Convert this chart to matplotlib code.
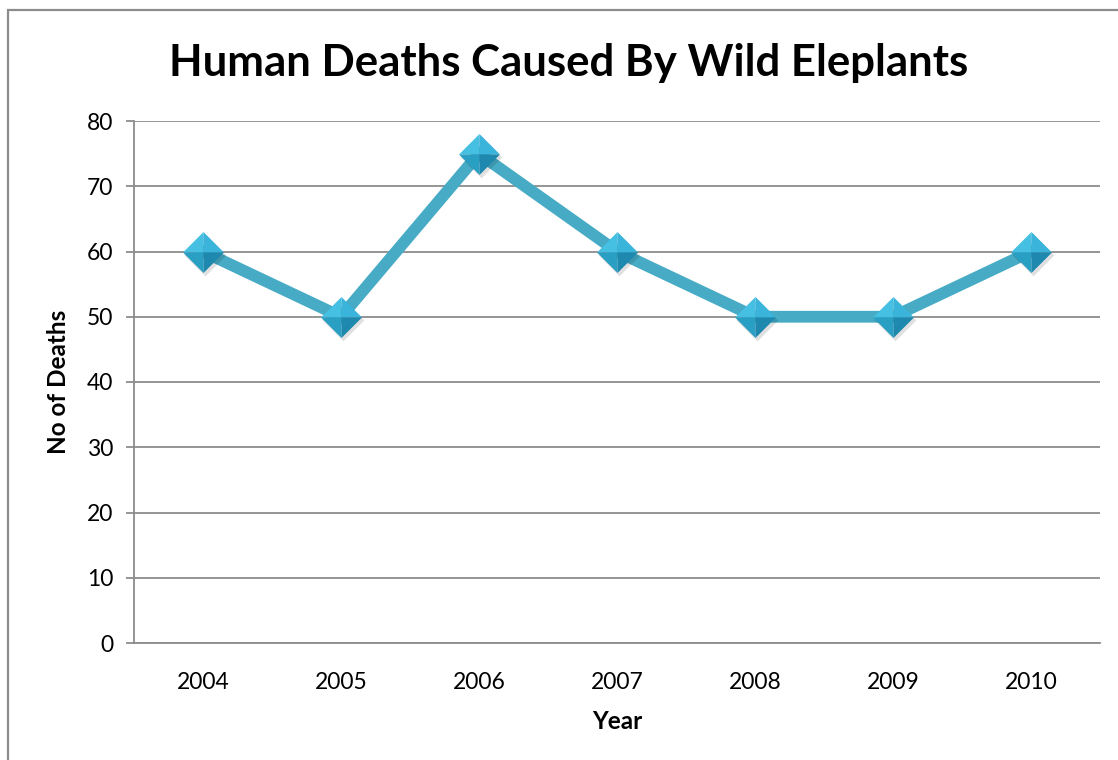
import matplotlib
matplotlib.use("Agg")
import matplotlib.pyplot as plt
from matplotlib.patches import Rectangle
from matplotlib.transforms import ScaledTranslation

plt.rcParams['font.family'] = ['Lato', 'DejaVu Sans']

# data
years = ['2004', '2005', '2006', '2007', '2008', '2009', '2010']
deaths = [60, 50, 75, 60, 50, 50, 60]
y_ticks = [0, 10, 20, 30, 40, 50, 60, 70, 80]

line_color = '#47ABC5'
grid_color = '#8C8C8C'

fig = plt.figure(figsize=(11.18, 7.6), dpi=100)
ax = fig.add_axes([134 / 1118, 1 - 643 / 760, 966 / 1118, 522 / 760])

# outer chart frame (runs off the right and bottom edges)
fig.patches.append(Rectangle((8 / 1118, -0.2), 1.2, 1.2 - 10 / 760,
                             transform=fig.transFigure, fill=False,
                             edgecolor='#8C8C8C', lw=1.6, zorder=0))

x = list(range(len(years)))
ax.plot(x, deaths, color=line_color, lw=8.5, solid_joinstyle='miter', zorder=3)

# bevelled diamond markers: four triangular faces around the centre
faces = [
    ([(0, 0), (-1, 0), (0, 1), (0, 0)], '#45BFE2'),   # upper left
    ([(0, 0), (0, 1), (1, 0), (0, 0)], '#3AB4DA'),    # upper right
    ([(0, 0), (-1, 0), (0, -1), (0, 0)], '#2A9FC4'),  # lower left
    ([(0, 0), (1, 0), (0, -1), (0, 0)], '#1E88AE'),   # lower right
]
# soft shadow under each marker
shadow = ax.transData + ScaledTranslation(1.5 / 100, -3 / 100, fig.dpi_scale_trans)
ax.plot(x, deaths, ls='none', marker=[(-1, 0), (0, 1), (1, 0), (0, -1), (-1, 0)],
        ms=30, color='#000000', alpha=0.12, mew=0, transform=shadow, zorder=3.5)
for verts, col in faces:
    ax.plot(x, deaths, ls='none', marker=verts, ms=29.5, color=col, mew=0, zorder=4)

ax.set_xlim(-0.5, 6.5)
ax.set_ylim(0, 80)
ax.set_yticks(y_ticks)
ax.set_xticks(x)
ax.set_xticklabels(years)

ax.grid(axis='y', color=grid_color, lw=1.3)
ax.set_axisbelow(True)
for side in ['top', 'right']:
    ax.spines[side].set_visible(False)
for side in ['left', 'bottom']:
    ax.spines[side].set_color(grid_color)
    ax.spines[side].set_linewidth(1.3)

ax.tick_params(axis='y', length=6, width=1.3, color=grid_color, labelsize=16.5, pad=9)
ax.tick_params(axis='x', length=0, labelsize=16.5, pad=21)

ax.set_xlabel('Year', fontsize=17.5, fontweight='bold', labelpad=12)
ax.set_ylabel('No of Deaths', fontsize=17.5, fontweight='bold', labelpad=12)

fig.text(569 / 1118, 1 - 63 / 760, 'Human Deaths Caused By Wild Eleplants',
         ha='center', va='center', fontsize=31.5, fontweight='bold')

fig.savefig('out.png', dpi=100)
